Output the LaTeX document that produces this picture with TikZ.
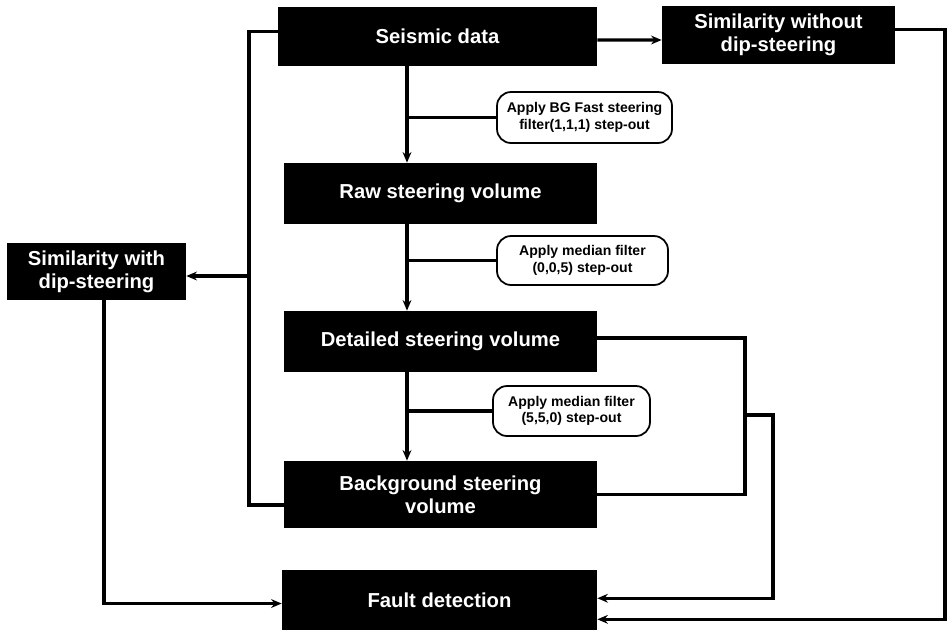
\documentclass[tikz,border=0pt]{standalone}
\usepackage{fontspec}
\setmainfont{Liberation Sans}
\usetikzlibrary{arrows.meta}
\tikzset{
	stage/.style={fill=black,text=white,font=\bfseries\fontsize{11.5}{13}\selectfont,align=center,inner sep=2pt},
	filt/.style={draw,line width=1pt,rounded corners=8pt,font=\bfseries\fontsize{8}{9.5}\selectfont,align=center,inner sep=2pt},
	link/.style={line width=1.8pt},
	arr/.style={line width=1.8pt,-{Stealth[length=6pt,width=5pt]}}
}
\begin{document}
\begin{tikzpicture}
	\useasboundingbox (0,0) rectangle (18.98,-12.6);
				\node[stage,minimum width=6.38cm,minimum height=1.18cm] (seis) at (8.75,-0.73) {Seismic data};
				\node[stage,minimum width=4.66cm,minimum height=1.16cm] (simwo) at (15.57,-0.70) {Similarity without\\dip-steering};
				\node[stage,minimum width=6.26cm,minimum height=1.22cm] (raw) at (8.81,-3.87) {Raw steering volume};
				\node[stage,minimum width=3.58cm,minimum height=1.14cm] (simw) at (1.93,-5.43) {Similarity with\\dip-steering};
				\node[stage,minimum width=6.26cm,minimum height=1.22cm] (det) at (8.81,-6.83) {Detailed steering volume};
				\node[stage,minimum width=6.26cm,minimum height=1.34cm] (bg) at (8.81,-9.89) {Background steering\\volume};
				\node[stage,minimum width=6.3cm,minimum height=1.2cm] (fault) at (8.79,-12.0) {Fault detection};
				\node[filt,minimum width=3.5cm,minimum height=1.02cm] (fa) at (11.69,-2.35) {Apply BG Fast steering\\filter(1,1,1) step-out};
				\node[filt,minimum width=3.42cm,minimum height=0.98cm] (fb) at (11.65,-5.21) {Apply median filter\\(0,0,5) step-out};
				\node[filt,minimum width=3.14cm,minimum height=1.0cm] (fc) at (11.43,-8.22) {Apply median filter\\(5,5,0) step-out};
				% trunk and side lines
				\coordinate (trunk) at (8.14,0);
				\coordinate (lft) at (4.98,0);
				\coordinate (rgt) at (18.9,0);
				\coordinate (loopa) at (14.9,0);
				\coordinate (loopb) at (15.46,0);
				\draw[arr] (trunk |- seis.south) -- (trunk |- raw.north);
				\draw[arr] (trunk |- raw.south) -- (trunk |- det.north);
				\draw[arr] (trunk |- det.south) -- (trunk |- bg.north);
				\draw[link] (trunk |- fa.west) -- (fa.west);
				\draw[link] (trunk |- fb.west) -- (fb.west);
				\draw[link] (trunk |- fc.west) -- (fc.west);
				\draw[link] ([yshift=3pt]seis.west) -| ([yshift=-6pt]bg.west -| lft) -- ([yshift=-6pt]bg.west);
				\draw[arr] (lft |- 0,-5.52) -- (simw.east |- 0,-5.52);
				\draw[arr] ([xshift=0.15cm]simw.south) |- ([yshift=-2pt]fault.west);
				\draw[arr] ([yshift=-2pt]seis.east) -- (simwo.west |- 0,-0.8);
				\draw[arr] ([yshift=3pt]simwo.east) -| ([yshift=-11pt]fault.east -| rgt) -- ([yshift=-11pt]fault.east);
				\draw[link] ([yshift=2pt]det.east) -| (bg.east -| loopa) -- (bg.east);
				\draw[arr] (loopa |- 0,-8.3) -| ([yshift=1pt]fault.east -| loopb) -- ([yshift=1pt]fault.east);
	\end{tikzpicture}
\end{document}
